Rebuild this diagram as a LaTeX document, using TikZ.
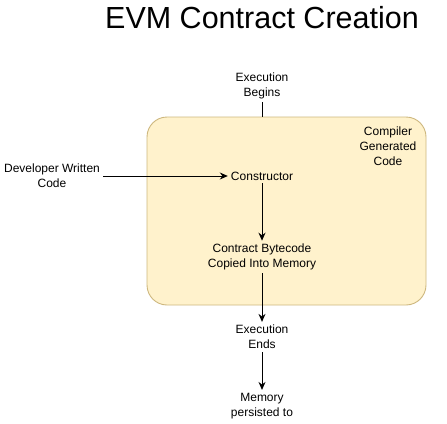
\documentclass[tikz,border=0pt]{standalone}
\usepackage{fontspec}
\setmainfont{Liberation Sans}
\usetikzlibrary{arrows.meta}
\definecolor{boxfill}{HTML}{FFF2CC}
\definecolor{boxline}{HTML}{CDB77E}
\tikzset{
  txt/.style={align=center, inner sep=3pt, font=\fontsize{12}{15}\selectfont},
  flow/.style={-{Stealth[length=8pt,width=7pt]}, line width=1pt},
  genbox/.style={draw=boxline, fill=boxfill, rounded corners=20pt, line width=0.9pt}
}
\begin{document}
\begin{tikzpicture}[x=1pt,y=-1pt]
\useasboundingbox (0,0) rectangle (447,423);

\node[genbox, minimum width=279pt, minimum height=188pt] (gen) at (286.5,211) {};

\node (title) at (262,18) {\fontsize{30.5}{36}\selectfont EVM Contract Creation};

\node[txt] (begins) at (262,86) {Execution\\Begins};
\node[txt] (compiler) at (388,146) {Compiler\\Generated\\Code};
\node[txt] (developer) at (52,176) {Developer Written\\Code};
\node[txt] (constructor) at (262,176) {Constructor};
\node[txt] (bytecode) at (262,257) {Contract Bytecode\\Copied Into Memory};
\node[txt] (ends) at (262,337) {Execution\\Ends};
\node[txt] (memory) at (262,406) {Memory\\persisted to};

\draw[line width=1pt] (begins) -- (begins.south |- gen.north);
\draw[flow] (developer) -- (constructor);
\draw[flow] (constructor) -- (bytecode);
\draw[flow] (bytecode) -- (ends);
\draw[flow] (ends) -- (memory);
\end{tikzpicture}
\end{document}
